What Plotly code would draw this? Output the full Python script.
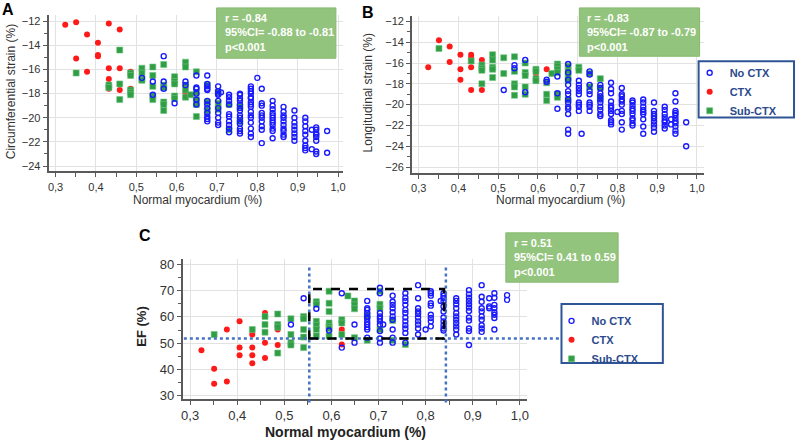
import plotly.graph_objects as go

W, H = 800, 448

# ---------------- data ----------------
# Panel A: circumferential strain (%) vs normal myocardium (fraction)
A_ctx_cols = [0.324, 0.351, 0.378, 0.405, 0.432, 0.459, 0.486, 0.595, 0.622]
A_ctx_vals = [[-12.3], [-12.1, -15.1], [-13.1, -16.2], [-13.8, -14.8, -14.9],
              [-12.2, -15.9, -16.8, -17.6], [-12.7, -15.9, -17.7], [-16.2, -17.6],
              [-16.7], [-17.9]]
A_sub_cols = [0.351, 0.432, 0.459, 0.486, 0.514, 0.541, 0.568, 0.595, 0.622, 0.635,
              0.649, 0.676, 0.703, 0.730, 0.757]
A_sub_vals = [[-16.3], [-17.3, -17.5], [-14.4, -17.2, -18.5],
              [-16.3, -16.5, -17.7, -17.9, -18.1], [-15.9, -16.3, -16.8, -16.9],
              [-15.8, -16.5, -17.4, -18.2, -18.5], [-15.6, -17.3, -17.5, -18.7, -18.9, -19.4],
              [-16.6, -17.0, -17.2, -18.2, -18.4], [-15.4, -15.8, -17.3, -17.7, -18.3],
              [-18.1], [-16.2, -17.9, -18.5, -18.9, -19.9], [-17.3, -18.7, -19.4],
              [-17.9, -18.8, -19.3], [-18.9, -21.0], [-19.1, -20.3]]
A_no_cols = [0.514, 0.541, 0.568, 0.595, 0.622, 0.649, 0.676, 0.703, 0.710, 0.730, 0.757,
             0.784, 0.800, 0.811, 0.838, 0.865, 0.892, 0.919, 0.935, 0.946, 0.973]
A_no_vals = [[-16.7], [-17.0, -18.1], [-14.9, -17.0, -17.6], [-18.8], [-17.0, -17.3],
             [-16.5, -17.5, -17.6, -18.0, -18.5, -18.9],
             [-16.5, -17.2, -17.4, -17.6, -17.7, -18.6, -18.9, -19.2, -19.6, -19.9, -20.1, -20.3],
             [-17.4, -17.8, -18.0, -18.1, -18.6, -19.2, -19.6, -20.0, -20.4, -20.6],
             [-17.9],
             [-18.1, -18.3, -18.6, -18.9, -19.7, -19.9, -20.3, -20.6, -20.9, -21.2],
             [-18.0, -18.1, -18.4, -18.6, -18.9, -19.2, -19.4, -19.8, -20.0, -20.3, -20.5,
              -20.9, -21.1, -21.3],
             [-17.4, -17.6, -17.8, -18.0, -18.3, -18.4, -18.7, -18.9, -19.1, -19.5, -19.8,
              -20.0, -20.4, -20.9, -21.3, -21.6],
             [-16.7],
             [-17.6, -18.8, -19.0, -19.6, -19.8, -20.0, -20.3, -20.7, -21.0, -22.1],
             [-18.6, -19.0, -19.3, -19.6, -19.8, -20.0, -20.2, -20.4, -20.6, -20.9, -21.1, -21.7],
             [-19.1, -19.5, -19.8, -20.0, -20.3, -20.6, -20.9, -21.1, -21.4, -21.6],
             [-19.4, -20.0, -20.4, -20.7, -21.0, -21.3, -21.6, -21.9],
             [-20.0, -20.3, -20.7, -21.1, -21.4, -21.9, -22.3, -22.5, -22.7],
             [-21.0, -22.6],
             [-20.8, -21.0, -21.3, -21.4, -21.6, -21.9, -22.8, -23.0],
             [-21.1, -22.9]]

# Panel B: longitudinal strain (%)
B_ctx_cols = [0.324, 0.351, 0.378, 0.405, 0.432, 0.459, 0.595, 0.622]
B_ctx_vals = [[-16.4], [-13.8], [-14.4, -15.9], [-15.2, -16.6, -17.6],
              [-15.2, -15.5, -16.4, -18.6], [-15.7, -18.6], [-17.0], [-16.6]]
B_sub_cols = [0.351, 0.432, 0.459, 0.486, 0.514, 0.541, 0.568, 0.595, 0.622, 0.635,
              0.649, 0.676, 0.703, 0.730, 0.757]
B_sub_vals = [[-14.6], [-15.8], [-16.2, -16.5, -16.7, -18.0],
              [-15.2, -15.7, -16.4, -16.6, -17.4], [-15.5, -17.0],
              [-15.4, -16.8, -18.0, -18.3, -19.1], [-16.0, -16.9, -17.2, -18.3, -19.0],
              [-16.6, -16.8, -17.5, -17.7], [-17.9, -19.0, -19.6], [-17.0],
              [-16.1, -16.3, -16.6, -16.9, -19.0, -19.3], [-16.3, -16.8, -17.3, -17.7, -19.5],
              [-16.4, -16.7], [-17.0, -18.3], [-17.5, -18.4, -19.4]]
B_no_cols = [0.514, 0.541, 0.568, 0.622, 0.649, 0.676, 0.703, 0.710, 0.730, 0.757, 0.784,
             0.800, 0.811, 0.838, 0.865, 0.892, 0.919, 0.935, 0.946, 0.973]
B_no_vals = [[-18.6], [-16.2, -16.5], [-15.7, -18.8], [-17.6, -17.8], [-17.3, -18.9, -20.4],
             [-16.1, -16.9, -17.6, -18.1, -18.7, -19.0, -19.5, -19.8, -20.2, -20.4, -20.9,
              -22.4, -22.8],
             [-17.7, -18.1, -18.4, -18.7, -19.0, -19.8, -20.0, -20.2, -20.6],
             [-22.8],
             [-16.8, -17.1, -18.1, -18.7, -19.0, -19.8, -20.0, -20.2, -20.6],
             [-18.1, -18.4, -18.9, -19.2, -19.5, -19.8, -20.2, -20.5, -20.9, -21.1],
             [-17.9, -18.5, -18.9, -19.7, -20.1, -20.3, -20.6, -20.9, -21.5, -21.7, -21.9],
             [-20.7],
             [-18.4, -19.0, -19.2, -19.5, -19.7, -20.0, -20.6, -20.9, -21.7, -22.4],
             [-19.6, -19.8, -20.1, -20.4, -20.6, -20.9, -21.3, -21.5, -21.8, -22.0],
             [-19.5, -19.8, -20.2, -20.5, -20.7, -20.9, -21.4, -22.1, -22.8],
             [-19.8, -20.6, -20.9, -21.1, -21.3, -21.6, -21.9, -22.2, -22.6],
             [-20.2, -20.5, -20.9, -21.2, -21.5, -21.7, -22.0, -22.3],
             [-21.4, -21.9],
             [-18.9, -19.7, -20.6, -20.8, -21.0, -21.3, -21.6, -21.8, -22.1, -22.5, -22.8],
             [-21.7, -24.0]]

# Panel C: EF (%)
C_ctx_cols = [0.324, 0.351, 0.378, 0.405, 0.432, 0.459, 0.486, 0.595, 0.622]
C_ctx_vals = [[47.3], [40.2, 34.5], [55.2, 35.4], [58.3, 48.3, 45.4],
              [53.3, 48.3, 45.4, 42.3], [61.5, 50.2, 44.3], [55.2, 49.3], [52.7], [55.2, 49.5]]
C_sub_cols = [0.351, 0.432, 0.459, 0.486, 0.514, 0.541, 0.568, 0.595, 0.622, 0.635,
              0.649, 0.676, 0.703, 0.730, 0.757]
C_sub_vals = [[53.3], [55.2], [60.2, 57.1, 54.2], [61.1, 57.1, 56.1, 46.2],
              [59.3, 53.3, 50.2, 49.3], [60.2, 59.3, 55.2, 52.3, 48.3],
              [65.8, 64.8, 58.3, 56.8, 55.2, 52.7],
              [69.8, 65.2, 62.1, 57.7, 56.4, 55.6, 52.7], [58.9, 57.7, 53.3], [68.0],
              [66.1, 64.6, 63.1, 52.1], [60.5, 51.1], [69.8, 64.8, 63.3, 55.2],
              [58.6, 51.1], [49.5]]
C_no_cols = [0.514, 0.541, 0.568, 0.595, 0.622, 0.649, 0.676, 0.703, 0.710, 0.730, 0.757,
             0.784, 0.800, 0.811, 0.832, 0.838, 0.865, 0.892, 0.919, 0.935, 0.946, 0.973]
C_no_vals = [[57.1], [67.1], [63.1], [54.8], [69.0, 48.3], [57.1, 50.2],
             [66.1, 63.3, 62.7, 61.5, 60.2, 59.3, 58.1, 57.1, 56.1, 55.2, 52.1],
             [71.1, 69.0, 61.5, 60.2, 59.3, 58.3, 57.1, 54.6, 51.8, 50.2],
             [57.1],
             [68.1, 65.8, 64.6, 63.3, 61.8, 60.2, 58.9, 55.2, 52.1, 50.2],
             [69.0, 67.3, 66.1, 64.6, 62.7, 61.5, 59.8, 58.3, 56.8, 55.6, 53.9, 50.2],
             [72.1, 67.1, 63.3, 62.1, 61.1, 59.8, 58.3, 57.1, 55.6, 53.3],
             [55.2],
             [69.8, 69.0, 68.1, 65.2, 64.3, 60.8, 59.6, 58.3, 56.4],
             [66.1],
             [69.0, 68.1, 67.1, 65.8, 64.0, 62.1, 59.8, 58.3, 56.8, 55.6, 54.8],
             [67.1, 66.1, 64.8, 63.3, 61.5, 60.2, 58.9, 57.7, 56.4, 55.2, 53.3],
             [70.2, 68.6, 67.3, 66.1, 64.8, 63.6, 62.3, 59.8, 58.6, 55.6, 54.6, 49.3],
             [72.1, 67.7, 65.8, 63.3, 62.1, 60.2, 58.9, 56.8, 55.6, 54.3],
             [67.1, 64.0, 63.3],
             [69.0, 67.3, 64.6, 63.3, 61.8, 60.8, 59.6, 55.2],
             [68.3, 66.5]]

# reference lines / box in panel C
C_vlines = [0.553, 0.843]
C_hline = 51.8
C_box = [0.553, 0.839, 51.8, 70.6]

stats = {
    "A": ["r = -0.84", "95%CI= -0.88 to -0.81", "p&lt;0.001"],
    "B": ["r = -0.83", "95%CI= -0.87 to -0.79", "p&lt;0.001"],
    "C": ["r = 0.51", "95%CI= 0.41 to 0.59", "p&lt;0.001"],
}
group_names = ["No CTX", "CTX", "Sub-CTX"]

# ---------------- styling ----------------
FONT = "Liberation Sans, Arial, sans-serif"
BLUE = "#1a1aff"
RED = "#ff1a1a"
GREEN = "#2f9e45"
BOXGREEN = "#93c47d"
LEGBLUE = "#2f5597"
LEGTEXT = "#2b4a8c"
AXC = "#5a5a5a"
GRID = "#e2e2e2"


def px(x):
    return x / W


def py(y):
    return 1 - y / H


def expand(cols, vals):
    xs, ys = [], []
    for c, v in zip(cols, vals):
        xs += [c] * len(v)
        ys += v
    return xs, ys


fig = go.Figure()

panels = [
    ("x", "y", (A_ctx_cols, A_ctx_vals), (A_sub_cols, A_sub_vals), (A_no_cols, A_no_vals), None),
    ("x2", "y2", (B_ctx_cols, B_ctx_vals), (B_sub_cols, B_sub_vals), (B_no_cols, B_no_vals), "legend"),
    ("x3", "y3", (C_ctx_cols, C_ctx_vals), (C_sub_cols, C_sub_vals), (C_no_cols, C_no_vals), "legend2"),
]

for xa, ya, ctx, sub, no, leg in panels:
    show = leg is not None
    x, y = expand(*ctx)
    fig.add_trace(go.Scatter(x=x, y=y, mode="markers", name=group_names[1], xaxis=xa, yaxis=ya,
                             marker=dict(symbol="circle", size=6, color=RED),
                             showlegend=show, legend=leg or "legend", legendrank=2))
    x, y = expand(*sub)
    fig.add_trace(go.Scatter(x=x, y=y, mode="markers", name=group_names[2], xaxis=xa, yaxis=ya,
                             marker=dict(symbol="square", size=6, color=GREEN,
                                         line=dict(width=0.6, color="#6cc27c")),
                             showlegend=show, legend=leg or "legend", legendrank=3))
    x, y = expand(*no)
    fig.add_trace(go.Scatter(x=x, y=y, mode="markers", name=group_names[0], xaxis=xa, yaxis=ya,
                             marker=dict(symbol="circle-open", size=5, color=BLUE,
                                         line=dict(width=1.4, color=BLUE)),
                             showlegend=show, legend=leg or "legend", legendrank=1))


def xaxis(dom, rng, fs):
    return dict(domain=dom, range=rng, tickmode="linear", tick0=0.3, dtick=0.1,
                tickformat=".1f", ticks="outside", ticklen=4, tickwidth=1, tickcolor=AXC,
                showline=True, linecolor=AXC, linewidth=2, showgrid=True, gridcolor=GRID,
                gridwidth=1, zeroline=False,
                tickfont=dict(family=FONT, size=fs, color="#333333"),
                minor=dict(ticks="outside", ticklen=4, tickwidth=1, tickcolor=AXC,
                           tick0=0.3, dtick=0.05, showgrid=False))


def yaxis(dom, rng, anchor, t0, dt, mdt, fs):
    return dict(domain=dom, range=rng, anchor=anchor, tickmode="linear", tick0=t0, dtick=dt,
                ticks="outside", ticklen=4, tickwidth=1, tickcolor=AXC,
                showline=True, linecolor=AXC, linewidth=2, showgrid=True, gridcolor=GRID,
                gridwidth=1, zeroline=False,
                tickfont=dict(family=FONT, size=fs, color="#333333"),
                minor=dict(ticks="outside", ticklen=3, tickwidth=1, tickcolor=AXC,
                           tick0=t0, dtick=mdt, showgrid=False))


A_x = [px(47), px(343)]
A_y = [py(172.7), py(14)]
B_x = [px(412.7), px(706)]
B_y = [py(174), py(15)]
C_x = [px(182), px(528)]
C_y = [py(403), py(261)]

C_xr = [0.2846, 1.0146]
C_yr = [28.87, 82.26]

legfont = dict(family=FONT, size=11, color=LEGTEXT, weight="bold")
layout = dict(
    width=W, height=H, margin=dict(l=0, r=0, t=0, b=0),
    paper_bgcolor="white", plot_bgcolor="white", separators=",.",
    font=dict(family=FONT, color="#333333"),
    xaxis=dict(xaxis(A_x, [0.283, 1.012], 11), anchor="y"),
    yaxis=yaxis(A_y, [-24.44, -11.48], "x", -24, 2, 1, 11),
    xaxis2=dict(xaxis(B_x, [0.2835, 1.0168], 11), anchor="y2"),
    yaxis2=yaxis(B_y, [-26.54, -11.46], "x2", -26, 2, 1, 11),
    xaxis3=dict(xaxis(C_x, C_xr, 13), anchor="y3"),
    yaxis3=yaxis(C_y, C_yr, "x3", 30, 10, 5, 13),
    legend=dict(x=px(692), y=py(58), xanchor="left", yanchor="top",
                bgcolor="rgba(0,0,0,0)", borderwidth=0, font=legfont),
    legend2=dict(x=px(553), y=py(309.5), xanchor="left", yanchor="top",
                 bgcolor="rgba(0,0,0,0)", borderwidth=0, font=legfont),
)
fig.update_layout(**layout)

shapes = []
annos = []

# panel C reference lines (drawn first so the legend box covers the line end)
for v in C_vlines:
    shapes.append(dict(type="line", xref="x3", yref="paper", x0=v, x1=v,
                       y0=py(407), y1=py(270),
                       line=dict(color="#4472c4", width=2.5, dash="dot")))
shapes.append(dict(type="line", xref="paper", yref="y3", x0=px(183), x1=px(637),
                   y0=C_hline, y1=C_hline,
                   line=dict(color="#4472c4", width=2.5, dash="dot")))
shapes.append(dict(type="rect", xref="x3", yref="y3", x0=C_box[0], x1=C_box[1],
                   y0=C_box[2], y1=C_box[3],
                   line=dict(color="black", width=2.5, dash="dash")))

# legend frames
for (x0, y0, x1, y1) in [(701, 61, 797, 118), (563, 307, 665, 367)]:
    shapes.append(dict(type="rect", xref="paper", yref="paper", x0=px(x0), x1=px(x1),
                       y0=py(y1), y1=py(y0), fillcolor="white",
                       line=dict(color=LEGBLUE, width=2), layer="above"))

# green stats boxes
for key, (x0, y0, x1, y1, tx, ty) in {
    "A": (216, 7, 336, 58, 222, 9),
    "B": (581, 7, 702, 56, 587, 9),
    "C": (507, 235, 620, 285, 513, 237),
}.items():
    shapes.append(dict(type="rect", xref="paper", yref="paper", x0=px(x0), x1=px(x1),
                       y0=py(y1), y1=py(y0), fillcolor=BOXGREEN,
                       line=dict(color="#86b96f", width=1), layer="above"))
    annos.append(dict(xref="paper", yref="paper", x=px(tx), y=py(ty), xanchor="left",
                      yanchor="top", align="left", showarrow=False,
                      text="<br>".join(stats[key]),
                      font=dict(family=FONT, size=11, color="white", weight="bold")))


# axis titles and panel letters
def txt(t, x, y, size, bold=False, angle=0, color="#333333"):
    annos.append(dict(xref="paper", yref="paper", x=px(x), y=py(y), xanchor="center",
                      yanchor="middle", showarrow=False, text=t, textangle=angle,
                      font=dict(family=FONT, size=size, color=color,
                                weight="bold" if bold else "normal")))


txt("Circumferential strain (%)", 8.5, 92, 12, angle=-90)
txt("Normal myocardium (%)", 197, 202, 12)
txt("Longitudinal strain (%)", 368, 93, 12, angle=-90)
txt("Normal myocardium (%)", 562, 202, 12)
txt("EF (%)", 140, 330, 13, bold=True, angle=-90, color="#222222")
txt("Normal myocardium (%)", 346, 437, 14, bold=True, color="#222222")
txt("A", 6, 9, 16, bold=True, color="black")
txt("B", 368, 12, 16, bold=True, color="black")
txt("C", 144, 238, 16, bold=True, color="black")

fig.update_layout(shapes=shapes, annotations=annos)
fig.write_html("out.html", config={"displayModeBar": False},
               post_script="document.body.style.margin='0';")
